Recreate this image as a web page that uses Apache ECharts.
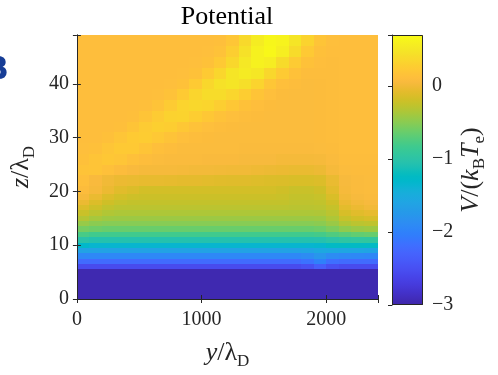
<!DOCTYPE html>
<html><head><meta charset="utf-8">
<script src="https://cdn.jsdelivr.net/npm/echarts@6/dist/echarts.min.js"></script>
<style>html,body{margin:0;padding:0;background:#fff}#c{width:498px;height:375px}</style>
</head><body><div id="c"></div>
<script>
// ---- data ----
const yEdges = [0,100,200,300,400,500,600,700,800,900,1000,1100,1200,1300,1400,1500,1600,1700,1800,1900,2000,2100,2200,2300,2416];
const zEdges = [0,5.5,6.5,7.5,8.5,9.5,10.5,11.5,12.5,13.5,14.5,15.5,16.5,17.5,18.5,19.5,21,23,25,27,29,31,33,35,37,39,41,43,45,47,49.1];
// potential V/(kB Te), one row per z band (bottom to top), one value per y column
const potentialRows = [
[-2.96,-2.96,-2.96,-2.96,-2.96,-2.96,-2.96,-2.96,-2.96,-2.96,-2.96,-2.96,-2.96,-2.96,-2.96,-2.96,-2.96,-2.96,-2.96,-2.96,-2.96,-2.96,-2.96,-2.96],
[-2.55,-2.55,-2.55,-2.55,-2.55,-2.55,-2.55,-2.55,-2.55,-2.55,-2.55,-2.55,-2.55,-2.55,-2.55,-2.55,-2.55,-2.55,-2.50,-2.35,-2.50,-2.55,-2.55,-2.55],
[-2.22,-2.22,-2.22,-2.22,-2.22,-2.22,-2.22,-2.22,-2.22,-2.22,-2.22,-2.22,-2.22,-2.22,-2.22,-2.22,-2.22,-2.22,-2.15,-2.00,-2.18,-2.22,-2.22,-2.22],
[-1.93,-1.93,-1.93,-1.93,-1.93,-1.93,-1.93,-1.93,-1.93,-1.93,-1.93,-1.93,-1.93,-1.93,-1.93,-1.93,-1.93,-1.93,-1.88,-1.78,-1.88,-1.92,-1.93,-1.94],
[-1.63,-1.63,-1.63,-1.63,-1.63,-1.63,-1.63,-1.63,-1.63,-1.63,-1.63,-1.63,-1.63,-1.63,-1.63,-1.63,-1.63,-1.63,-1.60,-1.55,-1.55,-1.57,-1.58,-1.60],
[-1.30,-1.35,-1.35,-1.35,-1.35,-1.35,-1.35,-1.35,-1.35,-1.35,-1.35,-1.35,-1.35,-1.35,-1.35,-1.35,-1.35,-1.35,-1.35,-1.33,-1.25,-1.24,-1.24,-1.25],
[-1.02,-1.06,-1.06,-1.06,-1.06,-1.06,-1.06,-1.06,-1.06,-1.06,-1.06,-1.06,-1.06,-1.06,-1.06,-1.06,-1.06,-1.06,-1.06,-1.05,-1.00,-0.97,-0.95,-0.94],
[-0.78,-0.82,-0.82,-0.82,-0.82,-0.82,-0.82,-0.82,-0.82,-0.82,-0.82,-0.82,-0.82,-0.82,-0.82,-0.82,-0.82,-0.82,-0.82,-0.80,-0.74,-0.70,-0.66,-0.64],
[-0.58,-0.61,-0.63,-0.63,-0.63,-0.63,-0.63,-0.63,-0.63,-0.63,-0.63,-0.63,-0.63,-0.63,-0.63,-0.63,-0.63,-0.63,-0.63,-0.61,-0.55,-0.47,-0.43,-0.41],
[-0.44,-0.49,-0.51,-0.51,-0.51,-0.51,-0.51,-0.51,-0.51,-0.51,-0.51,-0.51,-0.51,-0.51,-0.51,-0.51,-0.51,-0.51,-0.51,-0.49,-0.43,-0.33,-0.29,-0.27],
[-0.32,-0.38,-0.41,-0.42,-0.42,-0.42,-0.42,-0.42,-0.42,-0.42,-0.42,-0.42,-0.42,-0.42,-0.42,-0.42,-0.42,-0.42,-0.42,-0.41,-0.35,-0.23,-0.18,-0.15],
[-0.22,-0.29,-0.33,-0.35,-0.35,-0.35,-0.35,-0.35,-0.35,-0.35,-0.35,-0.35,-0.35,-0.35,-0.35,-0.35,-0.35,-0.35,-0.35,-0.34,-0.29,-0.15,-0.09,-0.06],
[-0.12,-0.20,-0.26,-0.29,-0.29,-0.29,-0.29,-0.29,-0.29,-0.29,-0.29,-0.29,-0.29,-0.29,-0.29,-0.29,-0.29,-0.30,-0.30,-0.29,-0.24,-0.08,-0.03,0.01],
[-0.03,-0.12,-0.19,-0.23,-0.25,-0.25,-0.25,-0.25,-0.25,-0.25,-0.25,-0.25,-0.25,-0.25,-0.25,-0.25,-0.25,-0.27,-0.27,-0.26,-0.19,-0.03,0.02,0.05],
[0.04,-0.04,-0.12,-0.17,-0.20,-0.21,-0.21,-0.21,-0.21,-0.21,-0.21,-0.21,-0.21,-0.21,-0.21,-0.21,-0.22,-0.25,-0.25,-0.23,-0.14,0.01,0.05,0.07],
[0.09,0.04,-0.03,-0.09,-0.13,-0.17,-0.17,-0.17,-0.17,-0.17,-0.17,-0.17,-0.17,-0.17,-0.17,-0.17,-0.19,-0.22,-0.22,-0.19,-0.08,0.04,0.07,0.08],
[0.13,0.06,0.00,-0.03,-0.04,-0.05,-0.05,-0.06,-0.07,-0.07,-0.08,-0.09,-0.10,-0.10,-0.11,-0.12,-0.13,-0.14,-0.14,-0.12,-0.04,0.05,0.07,0.08],
[0.17,0.18,0.14,0.09,0.06,0.04,0.04,0.04,0.03,0.02,0.02,0.01,0.00,0.00,-0.01,-0.02,-0.03,-0.04,-0.04,-0.02,0.04,0.08,0.09,0.09],
[0.14,0.18,0.21,0.19,0.14,0.10,0.08,0.07,0.07,0.07,0.06,0.06,0.06,0.05,0.05,0.05,0.03,0.03,0.03,0.04,0.07,0.10,0.10,0.10],
[0.12,0.14,0.19,0.23,0.23,0.18,0.13,0.10,0.08,0.08,0.08,0.08,0.08,0.07,0.07,0.07,0.07,0.07,0.07,0.08,0.09,0.11,0.11,0.11],
[0.11,0.11,0.14,0.19,0.24,0.26,0.22,0.17,0.12,0.10,0.09,0.08,0.08,0.08,0.08,0.08,0.08,0.08,0.08,0.09,0.10,0.11,0.11,0.11],
[0.11,0.11,0.11,0.13,0.18,0.25,0.29,0.27,0.21,0.16,0.12,0.10,0.09,0.08,0.08,0.08,0.08,0.08,0.08,0.09,0.10,0.11,0.11,0.11],
[0.11,0.11,0.11,0.11,0.13,0.18,0.25,0.31,0.32,0.27,0.21,0.16,0.12,0.10,0.09,0.08,0.08,0.08,0.08,0.09,0.10,0.11,0.11,0.11],
[0.11,0.11,0.11,0.11,0.11,0.13,0.17,0.25,0.33,0.36,0.34,0.28,0.21,0.15,0.11,0.09,0.08,0.08,0.08,0.09,0.10,0.11,0.11,0.11],
[0.11,0.11,0.11,0.11,0.11,0.11,0.12,0.16,0.24,0.34,0.41,0.41,0.35,0.27,0.18,0.12,0.09,0.08,0.08,0.09,0.10,0.11,0.11,0.11],
[0.11,0.11,0.11,0.11,0.11,0.11,0.11,0.12,0.15,0.24,0.36,0.45,0.48,0.43,0.33,0.20,0.13,0.10,0.08,0.09,0.10,0.11,0.11,0.11],
[0.11,0.11,0.11,0.11,0.11,0.11,0.11,0.11,0.12,0.15,0.24,0.35,0.48,0.54,0.50,0.36,0.24,0.15,0.10,0.10,0.10,0.11,0.11,0.11],
[0.11,0.11,0.11,0.11,0.11,0.11,0.11,0.11,0.11,0.12,0.15,0.23,0.36,0.51,0.60,0.56,0.40,0.25,0.15,0.11,0.10,0.11,0.11,0.11],
[0.11,0.11,0.11,0.11,0.11,0.11,0.11,0.11,0.11,0.11,0.12,0.16,0.28,0.45,0.60,0.66,0.57,0.40,0.23,0.14,0.11,0.11,0.11,0.11],
[0.11,0.11,0.11,0.11,0.11,0.11,0.11,0.11,0.11,0.11,0.11,0.13,0.20,0.38,0.55,0.65,0.62,0.48,0.32,0.18,0.12,0.11,0.11,0.11]
];
const xTickLabels = [0, 1000, 2000];
const yTickLabels = [0, 10, 20, 30, 40];
const cbTickLabels = [-3, -2, -1, 0];
const cbRange = [-3, 0.7];

// ---- colormap (MATLAB parula, 64 entries) ----
const PARULA = [
[0.2422,0.1504,0.6603],[0.2504,0.1650,0.7076],[0.2578,0.1818,0.7511],[0.2647,0.1978,0.7952],[0.2706,0.2147,0.8364],[0.2751,0.2342,0.8710],[0.2783,0.2559,0.8991],[0.2803,0.2782,0.9221],
[0.2813,0.3006,0.9414],[0.2810,0.3228,0.9579],[0.2795,0.3447,0.9717],[0.2760,0.3667,0.9829],[0.2699,0.3892,0.9906],[0.2602,0.4123,0.9952],[0.2440,0.4358,0.9988],[0.2206,0.4603,0.9973],
[0.1963,0.4847,0.9892],[0.1834,0.5074,0.9798],[0.1786,0.5289,0.9682],[0.1764,0.5499,0.9520],[0.1687,0.5703,0.9359],[0.1540,0.5902,0.9218],[0.1460,0.6091,0.9079],[0.1380,0.6276,0.8973],
[0.1248,0.6459,0.8883],[0.1113,0.6635,0.8763],[0.0952,0.6798,0.8598],[0.0689,0.6948,0.8394],[0.0297,0.7082,0.8163],[0.0036,0.7199,0.7909],[0.0067,0.7300,0.7642],[0.0433,0.7394,0.7384],
[0.0964,0.7489,0.7114],[0.1408,0.7575,0.6836],[0.1717,0.7658,0.6544],[0.1938,0.7758,0.6251],[0.2161,0.7843,0.5923],[0.2470,0.7918,0.5567],[0.2906,0.7973,0.5188],[0.3406,0.8008,0.4789],
[0.3909,0.8029,0.4354],[0.4456,0.8024,0.3909],[0.5044,0.7993,0.3480],[0.5616,0.7942,0.3045],[0.6174,0.7876,0.2612],[0.6720,0.7793,0.2227],[0.7242,0.7698,0.1910],[0.7738,0.7598,0.1646],
[0.8203,0.7498,0.1535],[0.8634,0.7406,0.1596],[0.9035,0.7330,0.1774],[0.9393,0.7288,0.2100],[0.9728,0.7298,0.2394],[0.9956,0.7434,0.2371],[0.9970,0.7659,0.2199],[0.9952,0.7893,0.2028],
[0.9892,0.8136,0.1885],[0.9786,0.8386,0.1766],[0.9676,0.8639,0.1643],[0.9610,0.8890,0.1537],[0.9597,0.9135,0.1423],[0.9628,0.9373,0.1265],[0.9691,0.9606,0.1064],[0.9769,0.9839,0.0805]
];
const parulaColors = PARULA.map(c => 'rgb(' + c.map(v => Math.round(v * 255)).join(',') + ')');

// ---- build series data from the arrays ----
const cells = [];
for (let j = 0; j < potentialRows.length; j++) {
  for (let i = 0; i < potentialRows[j].length; i++) {
    cells.push([yEdges[i], yEdges[i + 1], zEdges[j], zEdges[j + 1], potentialRows[j][i]]);
  }
}

const FONT = "'Liberation Serif', 'DejaVu Serif', serif";
const INK = '#262626';
const fmtMinus = v => (v < 0 ? '\u2212' + Math.abs(v) : String(v));

const nameRich = {
  i: { fontFamily: FONT, fontSize: 26, fontStyle: 'italic', color: INK, lineHeight: 34 },
  n: { fontFamily: FONT, fontSize: 26, color: INK, lineHeight: 34 },
  s: { fontFamily: FONT, fontSize: 17, color: INK, lineHeight: 18, verticalAlign: 'bottom' }
};

const chart = echarts.init(document.getElementById('c'), null, { renderer: 'canvas' });
const xMax = yEdges[yEdges.length - 1];
const zMax = zEdges[zEdges.length - 1];

const axisLineStyle = { show: true, lineStyle: { color: INK, width: 1 } };
const tickStyle = { show: true, inside: true, length: 4, lineStyle: { color: INK, width: 1 } };

chart.setOption({
  animation: false,
  backgroundColor: '#ffffff',
  grid: [
    { left: 76, top: 35, width: 302, height: 270, containLabel: false },
    { left: 392, top: 35, width: 31, height: 270, containLabel: false }
  ],
  xAxis: [
    { gridIndex: 0, type: 'value', min: 0, max: xMax, interval: 1000, position: 'bottom', z: 10,
      axisLine: axisLineStyle, axisTick: tickStyle, splitLine: { show: false },
      axisLabel: { margin: 11, color: INK, fontFamily: FONT, fontSize: 20,
        formatter: v => (xTickLabels.indexOf(v) >= 0 ? String(v) : '') },
      name: '{i|y}{n|/λ}{s|D}', nameLocation: 'middle', nameGap: 37,
      nameTextStyle: { rich: nameRich } },
    { gridIndex: 0, type: 'value', min: 0, max: xMax, interval: 1000, position: 'top', z: 10,
      axisLine: axisLineStyle, axisTick: tickStyle, splitLine: { show: false }, axisLabel: { show: false } },
    { gridIndex: 1, type: 'value', min: 0, max: 1, show: false }
  ],
  yAxis: [
    { gridIndex: 0, type: 'value', min: 0, max: zMax, interval: 10, position: 'left', z: 10,
      axisLine: axisLineStyle, axisTick: tickStyle, splitLine: { show: false },
      axisLabel: { margin: 8, color: INK, fontFamily: FONT, fontSize: 20,
        formatter: v => (yTickLabels.indexOf(v) >= 0 ? String(v) : '') },
      name: '{i|z}{n|/λ}{s|D}', nameLocation: 'middle', nameGap: 29, nameRotate: 90,
      nameTextStyle: { rich: nameRich } },
    { gridIndex: 0, type: 'value', min: 0, max: zMax, interval: 10, position: 'right', z: 10,
      axisLine: axisLineStyle, axisTick: tickStyle, splitLine: { show: false }, axisLabel: { show: false } },
    { gridIndex: 1, type: 'value', min: cbRange[0], max: cbRange[1], interval: 1, position: 'right', z: 10,
      axisLine: axisLineStyle, axisTick: tickStyle, splitLine: { show: false },
      axisLabel: { margin: 9, color: INK, fontFamily: FONT, fontSize: 20,
        formatter: v => (cbTickLabels.indexOf(v) >= 0 ? fmtMinus(v) : '') },
      name: '{i|V}{n|/(}{i|k}{s|B}{i|T}{s|e}{n|)}', nameLocation: 'middle', nameGap: 31, nameRotate: 90,
      nameTextStyle: { rich: nameRich } }
  ],
  visualMap: {
    type: 'continuous', show: false, min: cbRange[0], max: cbRange[1], dimension: 4,
    seriesIndex: 0, inRange: { color: parulaColors }
  },
  series: [
    {
      type: 'custom', xAxisIndex: 0, yAxisIndex: 0, silent: true,
      encode: { x: [0, 1], y: [2, 3] },
      data: cells,
      renderItem: function (params, api) {
        const p0 = api.coord([api.value(0), api.value(3)]);
        const p1 = api.coord([api.value(1), api.value(2)]);
        const x0 = Math.round(p0[0]), y0 = Math.round(p0[1]);
        const x1 = Math.round(p1[0]), y1 = Math.round(p1[1]);
        return { type: 'rect', shape: { x: x0, y: y0, width: x1 - x0, height: y1 - y0 },
          style: { fill: api.visual('color') } };
      }
    },
    {
      type: 'custom', xAxisIndex: 2, yAxisIndex: 2, silent: true,
      data: [[0, 1, cbRange[0], cbRange[1]]],
      encode: { x: [0, 1], y: [2, 3] },
      renderItem: function (params, api) {
        const p0 = api.coord([api.value(0), api.value(3)]);
        const p1 = api.coord([api.value(1), api.value(2)]);
        const x0 = Math.round(p0[0]), y0 = Math.round(p0[1]);
        const x1 = Math.round(p1[0]), y1 = Math.round(p1[1]);
        const stops = parulaColors.map((c, k) => ({ offset: k / (parulaColors.length - 1), color: c }));
        return { type: 'group', children: [
          { type: 'rect', shape: { x: x0, y: y0, width: x1 - x0, height: y1 - y0 },
            style: { fill: new echarts.graphic.LinearGradient(0, 1, 0, 0, stops) } },
          { type: 'rect', shape: { x: x0 + 0.5, y: y0 + 0.5, width: x1 - x0 - 1, height: y1 - y0 - 1 },
            style: { fill: 'none', stroke: INK, lineWidth: 1 } }
        ] };
      }
    }
  ],
  graphic: [
    { type: 'text', x: 227, y: 17, style: { text: 'Potential', fontFamily: FONT, fontSize: 26,
      fill: '#000', textAlign: 'center', textVerticalAlign: 'middle' } },
    { type: 'text', x: 9, y: 71, style: { text: 'B', fontFamily: "'DejaVu Sans', sans-serif", fontWeight: 'bold',
      fontSize: 32, fill: '#173d96', textAlign: 'right', textVerticalAlign: 'middle' } }
  ]
});
</script>
</body></html>
